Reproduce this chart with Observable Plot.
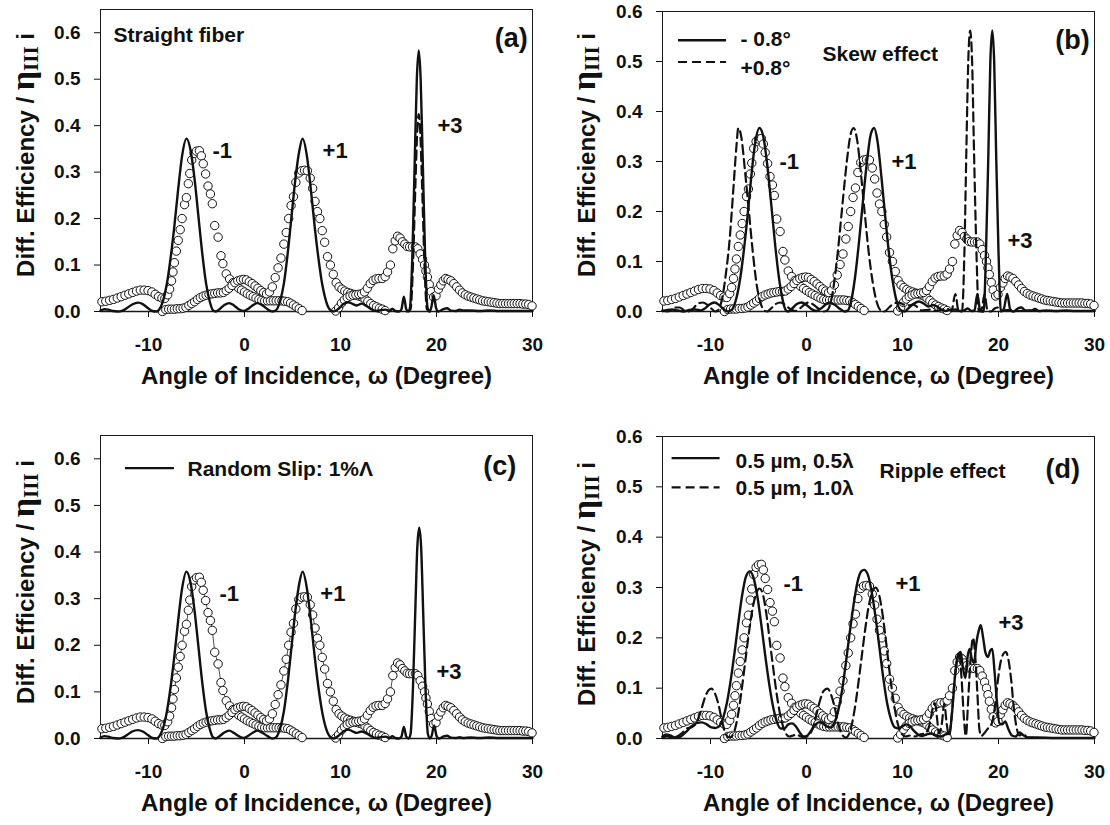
<!DOCTYPE html>
<html><head><meta charset="utf-8">
<script src="https://cdn.jsdelivr.net/npm/d3@7"></script>
<script src="https://cdn.jsdelivr.net/npm/@observablehq/plot@0.6"></script>
<style>
body{margin:0;background:#fff;}
#grid{display:grid;grid-template-columns:555px 555px;grid-template-rows:410px 415px;width:1110px;}
#grid svg{display:block;}
</style></head><body><div id="grid"></div>
<script>
// ---------------- data ----------------
const xTicks = [-10, 0, 10, 20, 30];
const yTicks = [0, 0.1, 0.2, 0.3, 0.4, 0.5, 0.6];
const xTitle = "Angle of Incidence, ω (Degree)";
const orderLabels = ["-1", "+1", "+3"];

// measured diffraction efficiency (open circles), same in every panel
const measMinus1 = [[-14.85,0.021],[-14.45,0.022],[-14.05,0.024],[-13.65,0.026],[-13.25,0.029],[-12.85,0.032],[-12.45,0.035],[-12.05,0.038],[-11.65,0.041],[-11.25,0.044],[-10.85,0.046],[-10.45,0.046],[-10.05,0.045],[-9.65,0.042],[-9.3,0.037],[-8.95,0.032],[-8.6,0.029],[-8.3,0.028],[-8.0,0.036],[-7.8,0.048],[-7.6,0.066],[-7.45,0.085],[-7.3,0.105],[-7.1,0.13],[-6.9,0.153],[-6.7,0.176],[-6.5,0.2],[-6.25,0.23],[-6.05,0.245],[-5.85,0.275],[-5.7,0.297],[-5.5,0.326],[-5.25,0.34],[-5.0,0.345],[-4.7,0.346],[-4.5,0.335],[-4.3,0.318],[-4.05,0.296],[-3.8,0.27],[-3.55,0.253],[-3.35,0.232],[-3.1,0.185],[-2.75,0.16],[-2.45,0.12],[-2.25,0.103],[-1.9,0.081],[-1.55,0.07],[-1.2,0.062],[-0.9,0.056],[-0.6,0.05],[-0.3,0.046],[0.0,0.042],[0.3,0.038],[0.6,0.035],[0.9,0.032],[1.2,0.029],[1.5,0.026],[1.8,0.024],[2.1,0.023],[2.4,0.023],[2.7,0.023],[3.0,0.023],[3.3,0.023],[3.6,0.023],[3.9,0.023],[4.2,0.022],[4.5,0.021],[4.8,0.018],[5.1,0.014],[5.4,0.01],[5.7,0.006],[6.0,0.002]];
const measPlus1 = [[-8.55,0.0],[-8.2,0.004],[-7.9,0.005],[-7.6,0.005],[-7.3,0.005],[-7.0,0.006],[-6.7,0.006],[-6.4,0.007],[-6.1,0.009],[-5.8,0.013],[-5.5,0.017],[-5.2,0.021],[-4.9,0.026],[-4.6,0.03],[-4.3,0.033],[-4.0,0.035],[-3.7,0.037],[-3.4,0.038],[-3.1,0.039],[-2.8,0.04],[-2.5,0.04],[-2.2,0.041],[-1.9,0.045],[-1.6,0.05],[-1.3,0.056],[-1.0,0.062],[-0.7,0.066],[-0.4,0.068],[-0.1,0.069],[0.2,0.068],[0.5,0.064],[0.8,0.06],[1.1,0.055],[1.4,0.05],[1.7,0.045],[2.0,0.041],[2.3,0.038],[2.6,0.042],[2.9,0.053],[3.2,0.073],[3.5,0.094],[3.8,0.115],[4.1,0.145],[4.35,0.17],[4.6,0.2],[4.85,0.228],[5.1,0.247],[5.35,0.278],[5.65,0.298],[5.95,0.303],[6.25,0.304],[6.55,0.303],[6.85,0.287],[7.1,0.265],[7.35,0.237],[7.6,0.215],[7.85,0.2],[8.1,0.174],[8.35,0.149],[8.65,0.118],[8.95,0.1],[9.25,0.08],[9.55,0.062],[9.85,0.053],[10.15,0.048],[10.45,0.044],[10.75,0.041],[11.05,0.039],[11.35,0.037],[11.65,0.035],[11.95,0.033],[12.25,0.031],[12.55,0.027],[12.85,0.022],[13.15,0.017],[13.45,0.013],[13.75,0.01],[14.05,0.007],[14.35,0.005],[14.65,0.002]];
const measPlus3 = [[9.5,0.001],[9.8,0.008],[10.1,0.018],[10.4,0.025],[10.7,0.03],[11.0,0.033],[11.3,0.035],[11.6,0.036],[11.9,0.037],[12.2,0.038],[12.5,0.042],[12.8,0.05],[13.1,0.06],[13.4,0.067],[13.7,0.07],[14.0,0.071],[14.35,0.071],[14.65,0.075],[14.9,0.085],[15.2,0.1],[15.45,0.135],[15.7,0.152],[15.95,0.162],[16.2,0.158],[16.45,0.15],[16.7,0.145],[16.95,0.14],[17.2,0.139],[17.5,0.139],[17.8,0.139],[18.05,0.135],[18.3,0.124],[18.55,0.112],[18.75,0.1],[18.9,0.087],[19.05,0.074],[19.25,0.058],[19.45,0.043],[19.7,0.031],[19.95,0.034],[20.2,0.048],[20.45,0.057],[20.7,0.066],[20.95,0.071],[21.2,0.069],[21.5,0.066],[21.8,0.06],[22.1,0.053],[22.4,0.046],[22.7,0.04],[23.0,0.036],[23.3,0.033],[23.6,0.031],[23.9,0.029],[24.2,0.027],[24.5,0.025],[24.8,0.023],[25.1,0.022],[25.4,0.021],[25.7,0.02],[26.0,0.019],[26.3,0.018],[26.6,0.017],[26.9,0.017],[27.2,0.017],[27.5,0.017],[27.8,0.017],[28.1,0.017],[28.4,0.017],[28.7,0.017],[29.0,0.016],[29.3,0.016],[29.6,0.015],[29.95,0.012]];

// (a) straight fiber theory
const theoryStraight = [[-15,0.002],[-14.6,0.005],[-14.2,0.004],[-13.7,0.001],[-13.2,0.0],[-12.7,0.002],[-12.2,0.008],[-11.7,0.015],[-11.1,0.019],[-10.6,0.016],[-10.1,0.008],[-9.6,0.001],[-9.2,0.0],[-8.9,0.004],[-8.5,0.022],[-8.1,0.058],[-7.7,0.115],[-7.3,0.185],[-6.9,0.265],[-6.5,0.335],[-6.05,0.372],[-5.6,0.345],[-5.2,0.285],[-4.8,0.205],[-4.4,0.125],[-4.0,0.06],[-3.6,0.02],[-3.3,0.003],[-3.0,0.0],[-2.6,0.005],[-2.1,0.014],[-1.6,0.018],[-1.1,0.013],[-0.6,0.005],[-0.1,0.001],[0.4,0.006],[0.9,0.014],[1.35,0.018],[1.8,0.014],[2.4,0.005],[2.9,0.0],[3.3,0.003],[3.7,0.022],[4.1,0.06],[4.5,0.125],[4.9,0.205],[5.3,0.285],[5.7,0.345],[6.05,0.372],[6.5,0.335],[6.9,0.265],[7.3,0.185],[7.7,0.115],[8.1,0.058],[8.5,0.022],[8.9,0.004],[9.3,0.0],[9.8,0.006],[10.3,0.016],[10.8,0.02],[11.3,0.016],[11.7,0.013],[12.2,0.017],[12.7,0.012],[13.2,0.005],[13.7,0.001],[14.2,0.003],[14.7,0.004],[15.1,0.001],[15.4,0.006],[15.7,0.001],[16.1,0.0],[16.35,0.005],[16.6,0.032],[16.85,0.005],[17.1,0.0],[17.25,0.01],[17.5,0.13],[17.75,0.34],[17.95,0.5],[18.15,0.562],[18.35,0.5],[18.55,0.34],[18.8,0.13],[19.05,0.01],[19.25,0.0],[19.45,0.008],[19.7,0.035],[19.95,0.008],[20.2,0.0],[20.7,0.005],[21.1,0.007],[21.5,0.002],[22.0,0.001],[22.4,0.004],[22.8,0.002],[23.5,0.002],[24.5,0.001],[25.5,0.002],[26.5,0.001],[27.5,0.001],[28.5,0.001],[30,0.001]];
const theoryStraightDash = [[16.9,0.0],[17.3,0.005],[17.55,0.1],[17.8,0.27],[18.0,0.39],[18.15,0.425],[18.3,0.39],[18.5,0.27],[18.75,0.1],[19.0,0.005],[19.3,0.0]];

// (b) skew effect
const theorySkewMinus = [[-15,0.001],[-14.5,0.003],[-14.0,0.004],[-13.4,0.002],[-12.8,0.0],[-12.2,0.003],[-11.6,0.004],[-11.0,0.002],[-10.6,0.006],[-10.1,0.014],[-9.6,0.018],[-9.1,0.013],[-8.6,0.004],[-8.2,0.0],[-7.8,0.003],[-7.4,0.02],[-7.0,0.055],[-6.6,0.11],[-6.2,0.18],[-5.8,0.26],[-5.4,0.33],[-4.9,0.367],[-4.5,0.35],[-4.1,0.295],[-3.7,0.22],[-3.3,0.14],[-2.9,0.072],[-2.5,0.025],[-2.2,0.004],[-1.9,0.0],[-1.5,0.006],[-1.0,0.015],[-0.5,0.018],[0.0,0.013],[0.5,0.005],[1.0,0.001],[1.5,0.006],[2.0,0.014],[2.4,0.018],[2.9,0.014],[3.5,0.005],[4.0,0.0],[4.3,0.002],[4.7,0.025],[5.1,0.075],[5.5,0.145],[5.9,0.225],[6.3,0.3],[6.7,0.355],[7.05,0.367],[7.4,0.34],[7.8,0.27],[8.2,0.19],[8.6,0.115],[9.0,0.058],[9.4,0.02],[9.8,0.003],[10.2,0.0],[10.7,0.008],[11.2,0.016],[11.7,0.02],[12.2,0.016],[12.7,0.01],[13.2,0.013],[13.6,0.01],[14.0,0.004],[14.5,0.001],[15.0,0.003],[15.5,0.004],[16.0,0.001],[16.4,0.002],[16.8,0.006],[17.2,0.001],[17.5,0.002],[17.8,0.035],[18.1,0.001],[18.45,0.0],[18.7,0.12],[18.95,0.32],[19.15,0.5],[19.35,0.562],[19.55,0.5],[19.75,0.32],[20.0,0.12],[20.25,0.0],[20.55,0.005],[20.9,0.035],[21.25,0.002],[21.6,0.0],[22.0,0.006],[22.4,0.008],[22.8,0.002],[23.4,0.002],[23.8,0.005],[24.2,0.001],[25,0.002],[26,0.001],[27,0.002],[28,0.001],[29,0.001],[30,0.001]];
const theorySkewPlus = [[-15,0.002],[-14.5,0.0],[-14.0,0.004],[-13.6,0.008],[-13.2,0.008],[-12.8,0.003],[-12.3,0.0],[-11.8,0.006],[-11.3,0.016],[-10.8,0.018],[-10.3,0.013],[-9.8,0.004],[-9.5,0.0],[-9.2,0.003],[-8.8,0.025],[-8.4,0.075],[-8.0,0.145],[-7.6,0.25],[-7.3,0.33],[-7.1,0.367],[-6.8,0.35],[-6.4,0.28],[-6.0,0.2],[-5.6,0.12],[-5.2,0.055],[-4.8,0.018],[-4.4,0.002],[-4.1,0.0],[-3.7,0.006],[-3.2,0.015],[-2.7,0.018],[-2.2,0.013],[-1.7,0.005],[-1.2,0.001],[-0.7,0.006],[-0.2,0.014],[0.2,0.018],[0.7,0.014],[1.3,0.005],[1.8,0.0],[2.2,0.003],[2.6,0.025],[3.0,0.075],[3.4,0.145],[3.8,0.225],[4.2,0.3],[4.6,0.355],[4.9,0.367],[5.3,0.34],[5.7,0.27],[6.1,0.19],[6.5,0.115],[6.9,0.058],[7.3,0.02],[7.7,0.003],[8.1,0.0],[8.6,0.008],[9.1,0.016],[9.6,0.018],[10.1,0.014],[10.6,0.012],[11.1,0.014],[11.6,0.008],[12.0,0.002],[12.5,0.003],[13.0,0.004],[13.5,0.001],[14.0,0.003],[14.6,0.006],[15.1,0.001],[15.5,0.035],[15.85,0.0],[16.2,0.0],[16.45,0.12],[16.65,0.32],[16.85,0.5],[17.05,0.562],[17.25,0.5],[17.45,0.32],[17.7,0.12],[17.95,0.0],[18.25,0.005],[18.55,0.035],[18.85,0.002],[19.2,0.0],[19.6,0.006],[20.0,0.008],[20.4,0.002],[21,0.003],[21.5,0.004],[22,0.001],[23,0.002],[24,0.001],[26,0.001],[28,0.001],[30,0.001]];

// (c) random slip
const theorySlip = [[-15,0.002],[-14.6,0.005],[-14.2,0.004],[-13.7,0.001],[-13.2,0.0],[-12.7,0.002],[-12.2,0.008],[-11.7,0.015],[-11.1,0.018],[-10.6,0.015],[-10.1,0.008],[-9.6,0.001],[-9.2,0.0],[-8.9,0.004],[-8.5,0.021],[-8.1,0.056],[-7.7,0.11],[-7.3,0.178],[-6.9,0.255],[-6.5,0.322],[-6.05,0.358],[-5.6,0.332],[-5.2,0.274],[-4.8,0.197],[-4.4,0.12],[-4.0,0.058],[-3.6,0.019],[-3.3,0.003],[-3.0,0.0],[-2.6,0.005],[-2.1,0.013],[-1.6,0.017],[-1.1,0.012],[-0.6,0.005],[-0.1,0.001],[0.4,0.006],[0.9,0.013],[1.35,0.017],[1.8,0.013],[2.4,0.005],[2.9,0.0],[3.3,0.003],[3.7,0.021],[4.1,0.058],[4.5,0.12],[4.9,0.197],[5.3,0.274],[5.7,0.332],[6.05,0.358],[6.5,0.322],[6.9,0.255],[7.3,0.178],[7.7,0.11],[8.1,0.056],[8.5,0.021],[8.9,0.004],[9.3,0.0],[9.8,0.006],[10.3,0.015],[10.8,0.019],[11.3,0.015],[11.7,0.012],[12.2,0.015],[12.7,0.011],[13.2,0.005],[13.7,0.001],[14.2,0.003],[14.7,0.004],[15.1,0.001],[15.4,0.005],[15.7,0.001],[16.1,0.0],[16.35,0.004],[16.6,0.025],[16.85,0.004],[17.1,0.0],[17.3,0.01],[17.55,0.11],[17.8,0.28],[18.0,0.41],[18.2,0.452],[18.4,0.41],[18.6,0.28],[18.85,0.11],[19.1,0.01],[19.3,0.0],[19.5,0.006],[19.75,0.028],[20.0,0.006],[20.25,0.0],[20.7,0.004],[21.1,0.006],[21.5,0.002],[22.0,0.001],[22.4,0.003],[22.8,0.001],[23.5,0.002],[24.5,0.001],[25.5,0.002],[26.5,0.001],[27.5,0.001],[28.5,0.001],[30,0.001]];

// (d) ripple effect
const theoryRipple05 = [[-15,0.004],[-14.6,0.008],[-14.2,0.006],[-13.7,0.002],[-13.2,0.003],[-12.6,0.012],[-12.0,0.024],[-11.4,0.031],[-10.9,0.032],[-10.4,0.028],[-9.9,0.022],[-9.5,0.021],[-9.1,0.024],[-8.7,0.04],[-8.3,0.07],[-7.9,0.115],[-7.5,0.17],[-7.1,0.23],[-6.7,0.285],[-6.3,0.322],[-5.9,0.332],[-5.5,0.318],[-5.1,0.28],[-4.7,0.225],[-4.3,0.165],[-3.9,0.11],[-3.5,0.065],[-3.1,0.034],[-2.7,0.02],[-2.3,0.02],[-1.9,0.028],[-1.5,0.03],[-1.1,0.024],[-0.7,0.012],[-0.3,0.004],[0.1,0.006],[0.5,0.016],[0.9,0.027],[1.3,0.032],[1.7,0.03],[2.1,0.024],[2.5,0.022],[2.9,0.03],[3.3,0.055],[3.7,0.095],[4.1,0.15],[4.5,0.21],[4.9,0.265],[5.3,0.31],[5.7,0.332],[6.0,0.335],[6.4,0.325],[6.8,0.29],[7.2,0.24],[7.6,0.18],[8.0,0.12],[8.4,0.07],[8.8,0.038],[9.2,0.022],[9.6,0.02],[10.0,0.024],[10.4,0.028],[10.8,0.024],[11.2,0.015],[11.6,0.008],[12.0,0.005],[12.5,0.008],[13.0,0.01],[13.5,0.006],[14.0,0.004],[14.5,0.008],[14.9,0.01],[15.2,0.06],[15.5,0.13],[15.8,0.165],[16.05,0.172],[16.3,0.14],[16.55,0.12],[16.8,0.165],[17.0,0.178],[17.2,0.16],[17.45,0.15],[17.7,0.19],[17.95,0.215],[18.15,0.225],[18.4,0.2],[18.65,0.17],[18.9,0.162],[19.15,0.175],[19.35,0.178],[19.6,0.13],[19.85,0.07],[20.1,0.03],[20.4,0.028],[20.7,0.034],[21.0,0.02],[21.4,0.006],[21.8,0.004],[22.2,0.012],[22.5,0.008],[23.0,0.002],[24,0.002],[26,0.001],[28,0.001],[30,0.001]];
const theoryRipple10 = [[-15,0.002],[-14.5,0.004],[-14.0,0.002],[-13.5,0.004],[-13.0,0.01],[-12.5,0.02],[-12.0,0.022],[-11.5,0.03],[-11.0,0.055],[-10.6,0.08],[-10.2,0.096],[-9.9,0.099],[-9.6,0.092],[-9.2,0.07],[-8.8,0.035],[-8.4,0.008],[-8.0,0.002],[-7.6,0.01],[-7.2,0.04],[-6.8,0.09],[-6.4,0.15],[-6.0,0.21],[-5.6,0.26],[-5.2,0.29],[-4.9,0.298],[-4.6,0.29],[-4.2,0.25],[-3.8,0.19],[-3.4,0.13],[-3.0,0.075],[-2.6,0.035],[-2.2,0.012],[-1.8,0.004],[-1.4,0.006],[-1.0,0.008],[-0.6,0.004],[-0.2,0.003],[0.2,0.006],[0.6,0.018],[1.0,0.045],[1.4,0.075],[1.8,0.095],[2.2,0.099],[2.5,0.09],[2.9,0.065],[3.3,0.03],[3.7,0.008],[4.1,0.002],[4.5,0.012],[4.9,0.045],[5.3,0.095],[5.7,0.155],[6.1,0.215],[6.5,0.265],[6.9,0.293],[7.2,0.3],[7.5,0.29],[7.9,0.25],[8.3,0.19],[8.7,0.125],[9.1,0.07],[9.5,0.03],[9.9,0.01],[10.3,0.004],[10.8,0.006],[11.3,0.004],[11.8,0.008],[12.3,0.01],[12.7,0.02],[13.0,0.045],[13.2,0.065],[13.4,0.07],[13.6,0.04],[13.8,0.01],[14.1,0.03],[14.35,0.07],[14.6,0.03],[14.85,0.005],[15.1,0.04],[15.4,0.11],[15.7,0.16],[15.9,0.17],[16.15,0.12],[16.4,0.04],[16.6,0.005],[16.85,0.08],[17.1,0.16],[17.35,0.2],[17.55,0.17],[17.8,0.09],[18.0,0.02],[18.2,0.005],[18.5,0.01],[18.9,0.02],[19.3,0.03],[19.6,0.06],[19.9,0.11],[20.2,0.15],[20.5,0.168],[20.75,0.172],[21.0,0.16],[21.3,0.12],[21.6,0.06],[21.9,0.02],[22.2,0.006],[22.6,0.01],[23.0,0.002],[24,0.001],[26,0.001],[30,0.001]];

// ---------------- layout / styles ----------------
const FONT = "'Liberation Sans', Arial, Helvetica, sans-serif";
const SERIF = "'Liberation Serif', 'DejaVu Serif', serif";
const panels = [
  {tag:"(a)", ymax:0.65, h:410, mt:9, mb:99, ml:100, mr:23, connect:false,
   solid:[theoryStraight], dashed:[theoryStraightDash],
   tagPos:[29.5,0.57], orderPos:[[-3.33,0.331],[8.13,0.331],[20.1,0.385]],
   notes:[{t:"Straight fiber", x:-13.65, y:0.58}], legend:[], ylab:[34,155]},
  {tag:"(b)", ymax:0.6, h:410, mt:11, mb:99, ml:107, mr:16, connect:false,
   solid:[theorySkewMinus], dashed:[theorySkewPlus],
   tagPos:[29.5,0.525], orderPos:[[-2.81,0.285],[8.85,0.285],[20.94,0.127]],
   notes:[{t:"Skew effect", x:1.67, y:0.501}],
   legend:[{t:"- 0.8°", dash:false, x1:-13.33, x2:-8.33, y:0.5426, tx:-6.875, ty:0.531},
           {t:"+0.8°", dash:true, x1:-13.33, x2:-8.33, y:0.499, tx:-6.875, ty:0.473}], ylab:[40,155]},
  {tag:"(c)", ymax:0.65, h:415, mt:25, mb:87, ml:100, mr:23, connect:true,
   solid:[theorySlip], dashed:[],
   tagPos:[28.3,0.565], orderPos:[[-2.6,0.295],[7.9,0.295],[20.0,0.128]],
   notes:[],
   legend:[{t:"Random Slip: 1%Λ", dash:false, x1:-12.4, x2:-7.3, y:0.58, tx:-5.94, ty:0.563}], ylab:[34,172]},
  {tag:"(d)", ymax:0.6, h:415, mt:26, mb:87, ml:107, mr:16, connect:false,
   solid:[theoryRipple05], dashed:[theoryRipple10],
   tagPos:[28.5,0.517], orderPos:[[-2.4,0.294],[9.27,0.294],[20.0,0.215]],
   notes:[{t:"Ripple effect", x:7.6, y:0.517}],
   legend:[{t:"0.5 µm, 0.5λ", dash:false, x1:-14.0, x2:-9.0, y:0.557, tx:-7.4, ty:0.537},
           {t:"0.5 µm, 1.0λ", dash:true, x1:-14.0, x2:-9.0, y:0.499, tx:-7.4, ty:0.483}], ylab:[40,174]}
];

const px = d => d[0], py = d => d[1];
const measured = [measMinus1, measPlus1, measPlus3];

function makePanel(p) {
  const marks = [
    Plot.frame({stroke:"#1a1a1a", strokeWidth:1}),
    Plot.axisY({ticks:yTicks, tickFormat:d => d.toFixed(1), tickSize:6, tickPadding:14, fontSize:19, fontWeight:"bold", label:null}),
    Plot.axisX({ticks:xTicks, tickFormat:d => String(d), tickSize:6, tickPadding:20, fontSize:19, fontWeight:"bold", label:null}),
    Plot.ruleY([0], {stroke:"#1a1a1a", strokeWidth:1.6})
  ];
  if (p.connect) for (const s of measured) marks.push(Plot.line(s, {x:px, y:py, stroke:"#222", strokeWidth:0.8}));
  for (const s of measured) marks.push(Plot.dot(s, {x:px, y:py, r:4.2, fill:"white", stroke:"#111", strokeWidth:1}));
  for (const s of p.dashed) marks.push(Plot.line(s, {x:px, y:py, stroke:"#111", strokeWidth:2.2, strokeDasharray:"9,5", curve:"monotone-x"}));
  for (const s of p.solid) marks.push(Plot.line(s, {x:px, y:py, stroke:"#111", strokeWidth:2.4, curve:"monotone-x"}));
  // legend samples
  const solidLeg = p.legend.filter(d => !d.dash), dashLeg = p.legend.filter(d => d.dash);
  marks.push(Plot.ruleY(solidLeg, {y:"y", x1:"x1", x2:"x2", stroke:"#111", strokeWidth:2.4}));
  marks.push(Plot.ruleY(dashLeg, {y:"y", x1:"x1", x2:"x2", stroke:"#111", strokeWidth:2.2, strokeDasharray:"9,5"}));
  marks.push(Plot.text(p.legend, {x:"tx", y:"ty", text:"t", textAnchor:"start", lineAnchor:"bottom", fontSize:21, fontWeight:"bold", fill:"#111"}));
  marks.push(Plot.text(p.notes, {x:"x", y:"y", text:"t", textAnchor:"start", lineAnchor:"bottom", fontSize:21, fontWeight:"bold", fill:"#111"}));
  marks.push(Plot.text(orderLabels, {x:(d,i) => p.orderPos[i][0], y:(d,i) => p.orderPos[i][1], text:d => d, textAnchor:"start", lineAnchor:"bottom", fontSize:22, fontWeight:"bold", fill:"#111"}));
  marks.push(Plot.text([p.tag], {x:p.tagPos[0], y:p.tagPos[1], text:d => d, textAnchor:"end", lineAnchor:"bottom", fontSize:27, fontWeight:"bold", fill:"#111"}));
  marks.push(Plot.text([xTitle], {frameAnchor:"bottom", dy:72, text:d => d, lineAnchor:"bottom", fontSize:24, fontWeight:"bold", fill:"#111"}));

  const svg = Plot.plot({
    width:555, height:p.h,
    marginTop:p.mt, marginBottom:p.mb, marginLeft:p.ml, marginRight:p.mr,
    x:{domain:[-15, 30]},
    y:{domain:[0, p.ymax]},
    style:{fontFamily:FONT, fontSize:"19px", fontWeight:"bold", color:"#111", background:"white", overflow:"visible"},
    marks
  });
  // y-axis title with subscript
  const t = d3.select(svg).append("text")
    .attr("transform", `translate(${p.ylab[0]},${p.ylab[1]}) rotate(-90)`)
    .attr("text-anchor", "middle")
    .attr("fill", "#111")
    .style("font-family", FONT).style("font-size", "24px").style("font-weight", "bold");
  t.append("tspan").text("Diff. Efficiency / ");
  t.append("tspan").text("η").style("font-family", SERIF).style("font-size", "34px").style("font-weight", "bold");
  t.append("tspan").text("III").attr("dy", 4).style("font-family", SERIF).style("font-size", "21px");
  t.append("tspan").text(" i").attr("dy", -4);
  return svg;
}

const grid = document.getElementById("grid");
for (const p of panels) grid.appendChild(makePanel(p));
</script>
</body></html>
